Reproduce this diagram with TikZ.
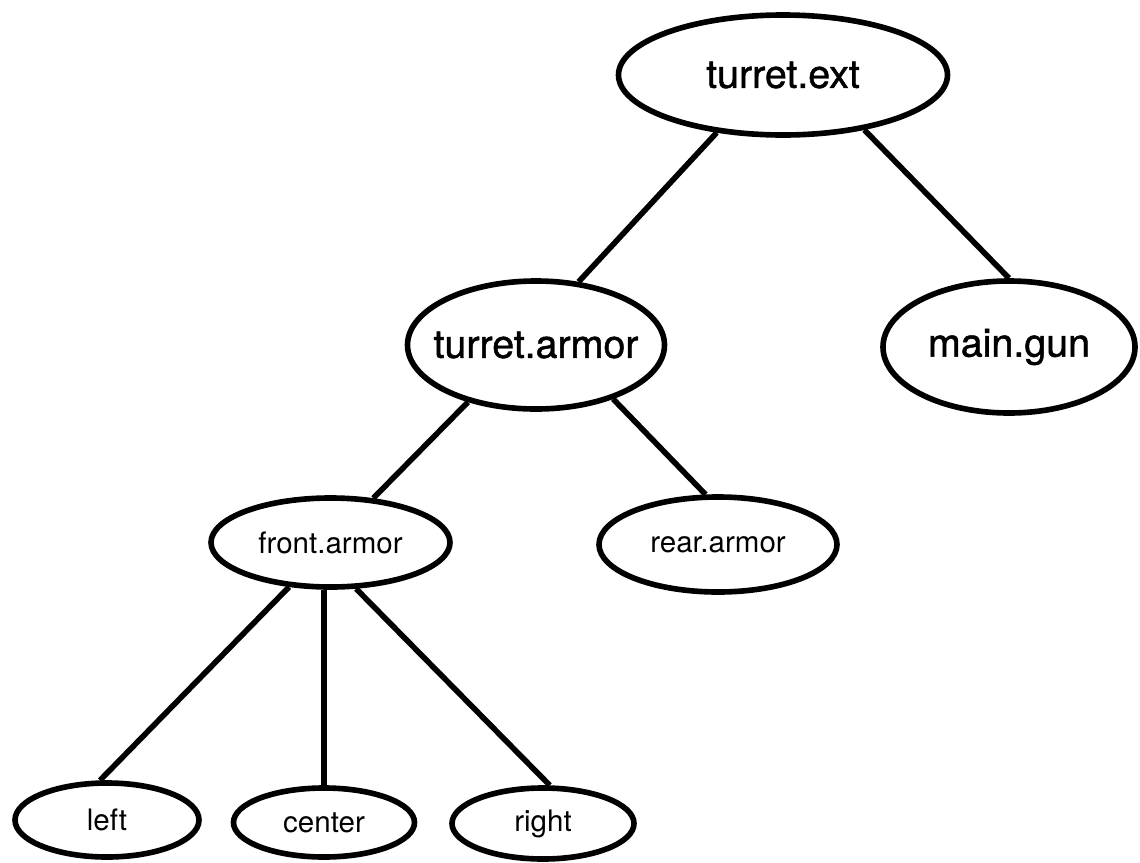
\documentclass[tikz,border=0pt]{standalone}
\usepackage{fontspec}
\setmainfont{TeX Gyre Heros}
\newfontfamily\heavyfont[FakeBold=1.2]{TeX Gyre Heros}
\usetikzlibrary{shapes.geometric}

\begin{document}
\begin{tikzpicture}[x=0.025cm, y=-0.025cm,
  oval/.style 2 args={draw, ellipse, line width=4pt, inner sep=0pt, minimum width=#1*0.025cm, minimum height=#2*0.025cm},
  bigtext/.style={font=\heavyfont\fontsize{28}{30}\selectfont},
  smalltext/.style={font=\fontsize{21}{24}\selectfont},
  branch/.style={line width=4pt, black}]
\useasboundingbox (0, 0) rectangle (1140, 863);

\node [oval={329}{120}, label={[bigtext]center:turret.ext}] (ext) at (783, 75) {};
\node [oval={257}{128}, label={[bigtext]center:turret.armor}] (tarmor) at (536, 345) {};
\node [oval={252}{132}, label={[bigtext]center:main.gun}] (gun) at (1009, 347) {};

\node [oval={239}{89}, label={[smalltext]center:front.armor}] (farmor) at (330.5, 542.5) {};
\node [oval={238}{95}, label={[smalltext]center:rear.armor}] (rarmor) at (718, 544.5) {};

\node [oval={184}{74}, label={[smalltext]center:left}] (left) at (107, 820) {};
\node [oval={181}{69}, label={[smalltext]center:center}] (center) at (324, 822.5) {};
\node [oval={182}{71}, label={[smalltext]center:right}] (right) at (543, 823.5) {};

\draw [branch] (ext.221) -- (tarmor.56);
\draw [branch] (ext.326) -- (gun.north);
\draw [branch] (tarmor.220) -- (farmor.46);
\draw [branch] (tarmor.325) -- (rarmor.104);
\draw [branch] (farmor.227) -- (left.100);
\draw [branch] (center.north |- farmor.south) -- (center.north);
\draw [branch] (farmor.299) -- (right.80);
\end{tikzpicture}
\end{document}
